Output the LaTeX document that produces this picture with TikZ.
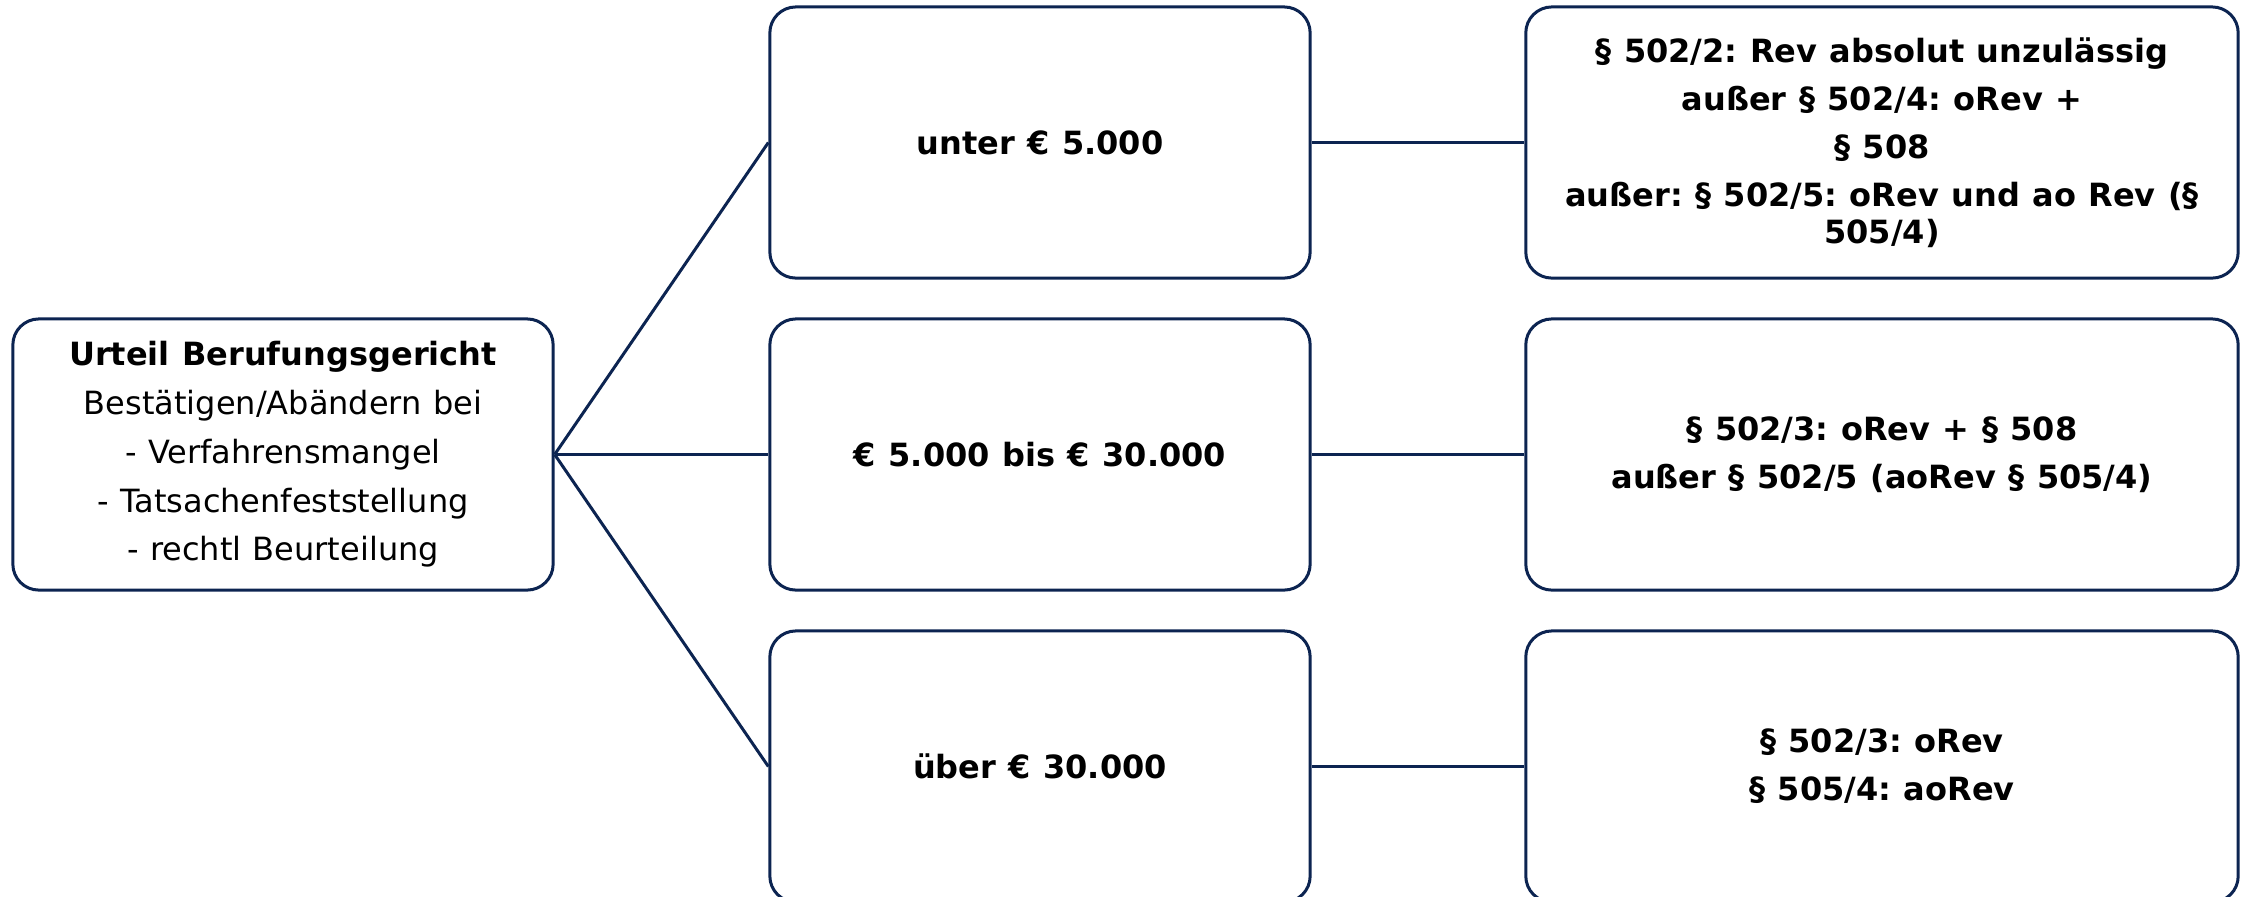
\documentclass[tikz,border=0pt]{standalone}
\usepackage{fontspec}
\setmainfont[WordSpace=1.12]{DejaVu Sans}
\frenchspacing
\definecolor{rand}{HTML}{0C2451}

\begin{document}
\begin{tikzpicture}[x=0.01cm,y=-0.01cm,
    kasten/.style={draw=rand, line width=0.03cm, rounded corners=0.26cm,
      fill=white, align=center, inner sep=0pt,
      minimum width=5.4cm, minimum height=2.71cm},
    breit/.style={kasten, minimum width=7.12cm},
    links/.style={font=\fontsize{9.1pt}{13.86pt}\selectfont},
    wert/.style={font=\bfseries\fontsize{9.1pt}{13.5pt}\selectfont},
    rev/.style={font=\bfseries\fontsize{9.1pt}{10.3pt}\selectfont},
    ast/.style={draw=rand, line width=0.03cm}]
  \useasboundingbox (0,0) rectangle (2244,896);

  \node[kasten, links] (urteil) at (283,454.5)
    {\textbf{Urteil Berufungsgericht}\\ Bestätigen/Abändern bei\\ - Verfahrensmangel\\
     - Tatsachenfeststellung\\ - rechtl Beurteilung};

  \node[kasten, wert] (unter) at (1040,142.5) {unter € 5.000};
  \node[kasten, wert] (mitte) at (1040,454.5) {€ 5.000 bis € 30.000};
  \node[kasten, wert] (ueber) at (1040,766.5) {über € 30.000};

  \node[breit, rev] (revunter) at (1882,142.5)
    {§ 502/2: Rev absolut unzulässig\\[3.4pt] außer § 502/4: oRev +\\[3.4pt] § 508\\[3.4pt]
     außer: § 502/5: oRev und ao Rev (§\\ 505/4)};
  \node[breit, rev] (revmitte) at (1882,454.5)
    {§ 502/3: oRev + § 508\\[3.4pt] außer § 502/5 (aoRev § 505/4)};
  \node[breit, rev] (revueber) at (1882,766.5)
    {§ 502/3: oRev\\[3.4pt] § 505/4: aoRev};

  \draw[ast] (urteil.east) -- (unter.west);
  \draw[ast] (urteil.east) -- (mitte.west);
  \draw[ast] (urteil.east) -- (ueber.west);
  \draw[ast] (unter.east) -- (revunter.west);
  \draw[ast] (mitte.east) -- (revmitte.west);
  \draw[ast] (ueber.east) -- (revueber.west);
\end{tikzpicture}
\end{document}
